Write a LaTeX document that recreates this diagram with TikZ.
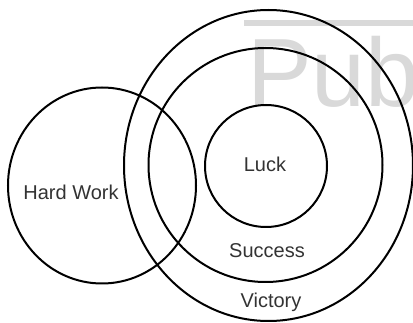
\documentclass[tikz,border=0pt]{standalone}
\usepackage{fontspec}
\setmainfont{Liberation Sans}
\usetikzlibrary{shapes.geometric}
\begin{document}
\begin{tikzpicture}[x=1pt,y=-1pt,
  ring/.style={ellipse, draw=black, line width=2pt, inner sep=0pt},
  lbl/.style={anchor=base, inner sep=0pt, text=black!80, font=\fontsize{20}{24}\selectfont},
  wm/.style={anchor=base west, inner sep=0pt, text=black!15, font=\fontsize{97}{110}\selectfont}]
\useasboundingbox (0,0) rectangle (413,323);
\clip (0,0) rectangle (413,323);
% watermark
\fill[black!15] (244,20) rectangle (414,26);
\node[wm] (pub) at (247,107) {Pub};
% circles
\node[ring, minimum width=289pt, minimum height=311pt] (victory) at (268.5,165.5) {};
\node[ring, minimum width=234pt, minimum height=234pt] (success) at (265.5,165) {};
\node[ring, minimum width=122pt, minimum height=122pt] (luck) at (266,166) {};
\node[ring, minimum width=188pt, minimum height=196pt] (hard) at (102,185.5) {};
% labels
\node[lbl] (tluck) at (265,172) {Luck};
\node[lbl] (tsuccess) at (267,258) {Success};
\node[lbl] (tvictory) at (271,308) {Victory};
\node[lbl] (thard) at (71,200) {Hard Work};
\end{tikzpicture}
\end{document}
